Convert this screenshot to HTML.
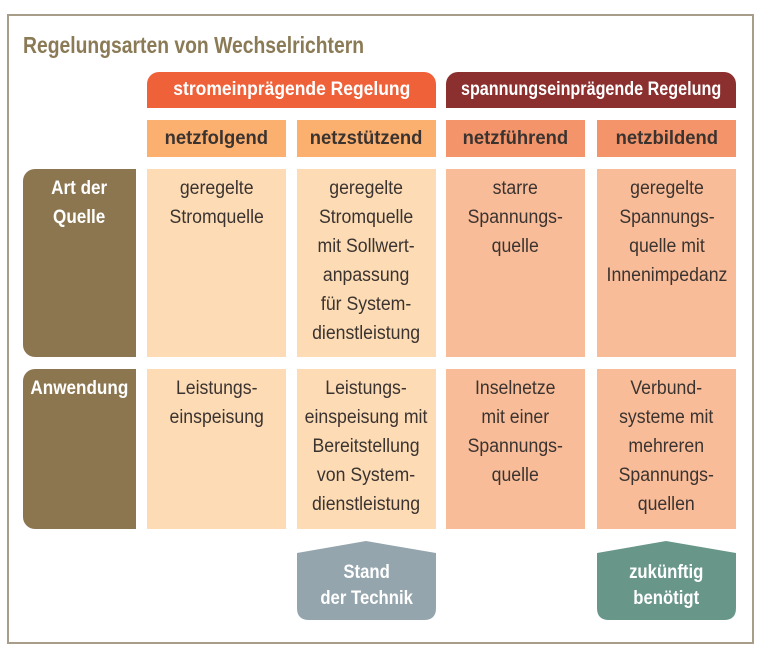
<!DOCTYPE html>
<html><head><meta charset="utf-8"><style>
body{margin:0;width:761px;height:649px;background:#fff;position:relative;overflow:hidden;font-family:"Liberation Sans",sans-serif}
.a{position:absolute;box-sizing:border-box;text-align:center}
.t{display:inline-block;transform:scaleX(.8);transform-origin:center;white-space:nowrap}
.c{font-size:19px;line-height:29px;color:#3a3330;padding-top:5px}
.c .t{transform:scaleX(.93)}
.h{font-size:19px;font-weight:bold;line-height:37px;color:#3a3330}
.h .t{transform:scaleX(.97)}
.top{font-size:19px;font-weight:bold;line-height:36px;color:#fff;border-radius:12px 12px 0 0}
.top .t{transform:scaleX(.92)}
.lab{font-size:19px;font-weight:bold;line-height:29px;color:#fff;background:#8b7650;border-radius:12px 0 0 12px;padding-top:5px}
.lab .t{transform:scaleX(.9)}
.bt .t{transform:scaleX(.88)}
.l1{background:#fddcb5}.l2{background:#f9bc98}
</style></head><body>
<div class="a" style="left:7px;top:14px;width:747px;height:630px;border:2px solid #a89d88"></div>
<div class="a" style="left:23px;top:28px;text-align:left;font-size:23px;font-weight:bold;color:#8a7a55;line-height:34px"><span class="t" style="transform-origin:left;transform:scaleX(.84)">Regelungsarten von Wechselrichtern</span></div>

<div class="a top" style="left:147px;top:72px;width:289px;height:36px;background:#ef6139"><span class="t">stromeinprägende Regelung</span></div>
<div class="a top" style="left:446px;top:72px;width:290px;height:36px;background:#8b2f2f"><span class="t" style="transform:scaleX(.85);margin:0 -60px">spannungseinprägende Regelung</span></div>

<div class="a h" style="left:147px;top:120px;width:139px;height:37px;background:#fbb070"><span class="t">netzfolgend</span></div>
<div class="a h" style="left:297px;top:120px;width:139px;height:37px;background:#fbb070"><span class="t">netzstützend</span></div>
<div class="a h" style="left:446px;top:120px;width:139px;height:37px;background:#f4946a"><span class="t">netzführend</span></div>
<div class="a h" style="left:597px;top:120px;width:139px;height:37px;background:#f4946a"><span class="t">netzbildend</span></div>

<div class="a lab" style="left:23px;top:169px;width:113px;height:188px"><span class="t">Art der<br>Quelle</span></div>
<div class="a lab" style="left:23px;top:369px;width:113px;height:160px"><span class="t">Anwendung</span></div>

<div class="a c l1" style="left:147px;top:169px;width:139px;height:188px"><span class="t">geregelte<br>Stromquelle</span></div>
<div class="a c l1" style="left:297px;top:169px;width:139px;height:188px"><span class="t">geregelte<br>Stromquelle<br>mit Sollwert-<br>anpassung<br>für System-<br>dienstleistung</span></div>
<div class="a c l2" style="left:446px;top:169px;width:139px;height:188px"><span class="t">starre<br>Spannungs-<br>quelle</span></div>
<div class="a c l2" style="left:597px;top:169px;width:139px;height:188px"><span class="t">geregelte<br>Spannungs-<br>quelle mit<br>Innenimpedanz</span></div>

<div class="a c l1" style="left:147px;top:369px;width:139px;height:160px"><span class="t">Leistungs-<br>einspeisung</span></div>
<div class="a c l1" style="left:297px;top:369px;width:139px;height:160px"><span class="t">Leistungs-<br>einspeisung mit<br>Bereitstellung<br>von System-<br>dienstleistung</span></div>
<div class="a c l2" style="left:446px;top:369px;width:139px;height:160px"><span class="t">Inselnetze<br>mit einer<br>Spannungs-<br>quelle</span></div>
<div class="a c l2" style="left:597px;top:369px;width:139px;height:160px"><span class="t">Verbund-<br>systeme mit<br>mehreren<br>Spannungs-<br>quellen</span></div>

<svg class="a" style="left:0;top:0" width="761" height="649">
<path d="M297 553 L366 541 L436 553 L436 608 Q436 620 424 620 L309 620 Q297 620 297 608 Z" fill="#95a5ad"/>
<path d="M597 553 L666 541 L736 553 L736 608 Q736 620 724 620 L609 620 Q597 620 597 608 Z" fill="#68978a"/>
</svg>
<div class="a bt" style="left:297px;top:560px;width:139px;font-size:19px;font-weight:bold;line-height:26px;color:#fff"><span class="t">Stand<br>der Technik</span></div>
<div class="a bt" style="left:597px;top:560px;width:139px;font-size:19px;font-weight:bold;line-height:26px;color:#fff"><span class="t">zukünftig<br>benötigt</span></div>
</body></html>
